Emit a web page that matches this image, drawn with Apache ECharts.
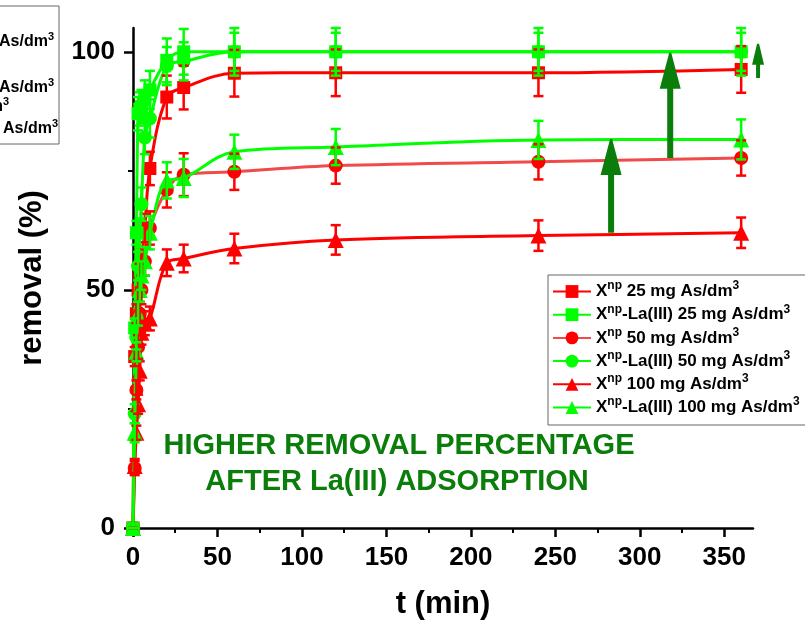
<!DOCTYPE html>
<html>
<head>
<meta charset="utf-8">
<script src="https://cdn.jsdelivr.net/npm/echarts@6/dist/echarts.min.js"></script>
<style>
  html, body { margin: 0; padding: 0; background: #fff; }
  #chart { width: 805px; height: 630px; }
</style>
</head>
<body>
<div id="chart"></div>
<script>
// 时间点 (min)
var times = [0, 1, 2, 3, 4, 5, 7, 10, 20, 30, 60, 120, 240, 360];

// removal (%) 各组
var sq25 = [0, 36, 45, 50, 53, 56, 63, 75.5, 90.5, 92.5, 95.5, 95.6, 95.6, 96.3];
var sq25La = [0, 42, 62, 87, 88, 88.5, 90, 92, 98.2, 100, 100, 100, 100, 100];
var ci50 = [0, 12.6, 29, 38, 45, 50, 56, 63, 71, 74.2, 74.8, 76.1, 76.9, 77.7];
var ci50La = [0, 24, 40, 55, 62, 68, 82, 86, 97, 98, 100, 100, 100, 100];
var tr100 = [0, 13, 20, 26, 33, 41, 43, 44, 55.7, 56.6, 58.7, 60.5, 61.4, 62];
var tr100La = [0, 20, 37, 45, 50, 53, 56, 62, 73, 73.5, 79, 80, 81.5, 81.6];

// 误差
var sq25Err = [0, 2, 2, 2.5, 2.5, 3, 3, 3.5, 4.5, 4.6, 4.9, 4.9, 4.9, 4.9];
var sq25LaErr = [0, 2, 2.5, 3.5, 3.5, 3.5, 4, 4, 4.6, 4.8, 5, 5, 5, 5];
var ci50Err = [0, 1.5, 2, 2.5, 2.5, 3, 3, 3.5, 3.7, 4.5, 3.8, 3.8, 3.7, 3.7];
var ci50LaErr = [0, 2, 2.5, 3, 3, 3.5, 3.5, 4, 4, 4, 4, 4, 4, 4];
var tr100Err = [0, 1.5, 1.5, 2, 2, 2.5, 2.5, 2.5, 2.8, 2.9, 3.1, 3.1, 3.2, 3.2];
var tr100LaErr = [0, 2, 2, 2.5, 2.5, 3, 3, 3.5, 3.8, 4, 3.6, 3.8, 4, 4.2];

var seriesNames = [
    'X^np 25 mg As/dm^3',
    'X^np-La(III) 25 mg As/dm^3',
    'X^np 50 mg As/dm^3',
    'X^np-La(III) 50 mg As/dm^3',
    'X^np 100 mg As/dm^3',
    'X^np-La(III) 100 mg As/dm^3'
];

// 刻度
var xMajor = [0, 50, 100, 150, 200, 250, 300, 350];
var xMinor = [25, 75, 125, 175, 225, 275, 325];
var yMajor = [0, 50, 100];
var yMinor = [25, 75];

// 箭头 (t, 起点, 终点)
var arrowT = [283, 318, 370];
var arrowFrom = [62, 77.7, 94.5];
var arrowTo = [81.7, 99.8, 101.7];

var RED = '#ff0000', GREEN = '#00ff00', DARK = '#0a7d0a';
var FONT = 'Liberation Sans, Arial, sans-serif';

function pairs(vals){
    return times.map(function(t, i){ return [t, vals[i]]; });
}
function errPairs(vals, errs){
    return times.map(function(t, i){ return [t, vals[i] - errs[i], vals[i] + errs[i]]; });
}
function errRender(params, api){
    var top = api.coord([api.value(0), api.value(2)]);
    var bot = api.coord([api.value(0), api.value(1)]);
    var hw = 5;
    var st = {stroke: api.visual('color'), lineWidth: 2.5};
    return {type: 'group', children: [
        {type: 'line', shape: {x1: top[0], y1: top[1], x2: bot[0], y2: bot[1]}, style: st},
        {type: 'line', shape: {x1: top[0] - hw, y1: top[1], x2: top[0] + hw, y2: top[1]}, style: st},
        {type: 'line', shape: {x1: bot[0] - hw, y1: bot[1], x2: bot[0] + hw, y2: bot[1]}, style: st}
    ]};
}

var groups = [
    {vals: sq25, errs: sq25Err, color: RED, line: RED, symbol: 'rect', size: 13},
    {vals: sq25La, errs: sq25LaErr, color: GREEN, line: GREEN, symbol: 'rect', size: 13},
    {vals: ci50, errs: ci50Err, color: RED, line: '#f04a4a', symbol: 'circle', size: 14},
    {vals: ci50La, errs: ci50LaErr, color: GREEN, line: GREEN, symbol: 'circle', size: 14},
    {vals: tr100, errs: tr100Err, color: RED, line: RED, symbol: 'triangle', size: 16},
    {vals: tr100La, errs: tr100LaErr, color: GREEN, line: GREEN, symbol: 'triangle', size: 16}
];

var series = [];
groups.forEach(function(g, i){
    series.push({
        name: seriesNames[i],
        type: 'line',
        smooth: 0.35,
        data: pairs(g.vals),
        symbol: g.symbol,
        symbolSize: g.size,
        showAllSymbol: true,
        clip: false,
        itemStyle: {color: g.color},
        lineStyle: {color: g.line, width: 3},
        z: 2 + i * 0.1
    });
    series.push({
        type: 'custom',
        renderItem: errRender,
        data: errPairs(g.vals, g.errs),
        encode: {x: 0, y: [1, 2]},
        itemStyle: {color: g.color},
        clip: false,
        silent: true,
        z: 3 + i * 0.1
    });
});

var axisText = {fontSize: 26, fontWeight: 'bold', color: '#000', fontFamily: FONT};
var nameText = {fontSize: 31, fontWeight: 'bold', color: '#000', fontFamily: FONT};
// 上标
var supRich = {
    n: {fontSize: 17, fontWeight: 'bold', color: '#000', lineHeight: 23, fontFamily: FONT},
    s: {fontSize: 12, fontWeight: 'bold', color: '#000', lineHeight: 8, verticalAlign: 'top', fontFamily: FONT}
};

var chart = echarts.init(document.getElementById('chart'));
var option = {
    animation: false,
    backgroundColor: '#fff',
    textStyle: {fontFamily: FONT},
    grid: {left: 133, right: 52, top: 28, bottom: 102},
    xAxis: [{
        type: 'value',
        min: 0, max: 367,
        name: 't (min)',
        nameLocation: 'middle',
        nameGap: 61,
        nameTextStyle: nameText,
        axisLine: {lineStyle: {color: '#000', width: 2.5}},
        axisTick: {inside: false, length: 9, customValues: xMajor, lineStyle: {color: '#000', width: 2.5}},
        axisLabel: Object.assign({margin: 17, customValues: xMajor}, axisText),
        splitLine: {show: false}
    }, {
        // 次刻度
        type: 'value',
        min: 0, max: 367,
        position: 'bottom',
        axisLine: {show: false},
        axisTick: {inside: false, length: 5, customValues: xMinor, lineStyle: {color: '#000', width: 2}},
        axisLabel: {show: false},
        splitLine: {show: false}
    }],
    yAxis: [{
        type: 'value',
        min: 0, max: 105,
        name: 'removal (%)',
        nameLocation: 'middle',
        nameGap: 85,
        nameTextStyle: nameText,
        axisLine: {show: true, lineStyle: {color: '#000', width: 2.5}},
        axisTick: {show: true, inside: false, length: 9, customValues: yMajor, lineStyle: {color: '#000', width: 2.5}},
        axisLabel: Object.assign({margin: 18, customValues: yMajor}, axisText),
        splitLine: {show: false}
    }, {
        type: 'value',
        min: 0, max: 105,
        position: 'left',
        axisLine: {show: false},
        axisTick: {show: true, inside: false, length: 5, customValues: yMinor, lineStyle: {color: '#000', width: 2}},
        axisLabel: {show: false},
        splitLine: {show: false}
    }],
    legend: {
        data: seriesNames,
        orient: 'vertical',
        left: 548, top: 275,
        padding: [5, 200, 9, 4],
        itemGap: 3.2,
        itemWidth: 38,
        itemHeight: 16,
        borderColor: '#666',
        borderWidth: 1,
        formatter: function(name){
            return '{n|' + name.replace(/\^([\w]+)/g, '}{s|$1}{n|') + '}';
        },
        textStyle: {fontFamily: FONT, rich: supRich}
    },
    series: series
};
chart.setOption(option);

// 注释图形
var graphics = [];
arrowT.forEach(function(t, i){
    var p0 = chart.convertToPixel({gridIndex: 0}, [t, arrowFrom[i]]);
    var p1 = chart.convertToPixel({gridIndex: 0}, [t, arrowTo[i]]);
    var small = i === 2;
    var headLen = small ? 21 : 36, headW = small ? 6 : 10.5, shaftW = small ? 2 : 3;
    graphics.push({
        type: 'polygon',
        shape: {points: [
            [p0[0] - shaftW, p0[1]], [p0[0] - shaftW, p1[1] + headLen], [p1[0] - headW, p1[1] + headLen],
            [p1[0] - 1, p1[1]], [p1[0] + 1, p1[1]],
            [p1[0] + headW, p1[1] + headLen], [p0[0] + shaftW, p1[1] + headLen], [p0[0] + shaftW, p0[1]]
        ]},
        style: {fill: DARK},
        z: 10
    });
});
graphics.push({
    type: 'text',
    style: {text: 'HIGHER REMOVAL PERCENTAGE', x: 399, y: 446, align: 'center', verticalAlign: 'middle',
        font: 'bold 29px ' + FONT, fill: DARK},
    z: 10
});
graphics.push({
    type: 'text',
    style: {text: 'AFTER La(III) ADSORPTION', x: 397, y: 482, align: 'center', verticalAlign: 'middle',
        font: 'bold 29px ' + FONT, fill: DARK},
    z: 10
});
// 左上角被截掉的图例
graphics.push({
    type: 'rect',
    shape: {x: -20, y: 6, width: 79, height: 138},
    style: {fill: 'none', stroke: '#666', lineWidth: 1},
    z: 10
});
var fragRich = {
    n: {fontSize: 16, fontWeight: 'bold', fill: '#000', lineHeight: 22, fontFamily: FONT},
    s: {fontSize: 11, fontWeight: 'bold', fill: '#000', lineHeight: 8, verticalAlign: 'top', fontFamily: FONT}
};
[[54, 42, 'As/dm'], [54, 88, 'As/dm'], [9, 107, 'm'], [58, 129, 'As/dm']].forEach(function(f){
    graphics.push({
        type: 'text',
        style: {text: '{n|' + f[2] + '}{s|3}', x: f[0], y: f[1], align: 'right', verticalAlign: 'middle', rich: fragRich},
        z: 10
    });
});
chart.setOption({graphic: graphics});
</script>
</body>
</html>
